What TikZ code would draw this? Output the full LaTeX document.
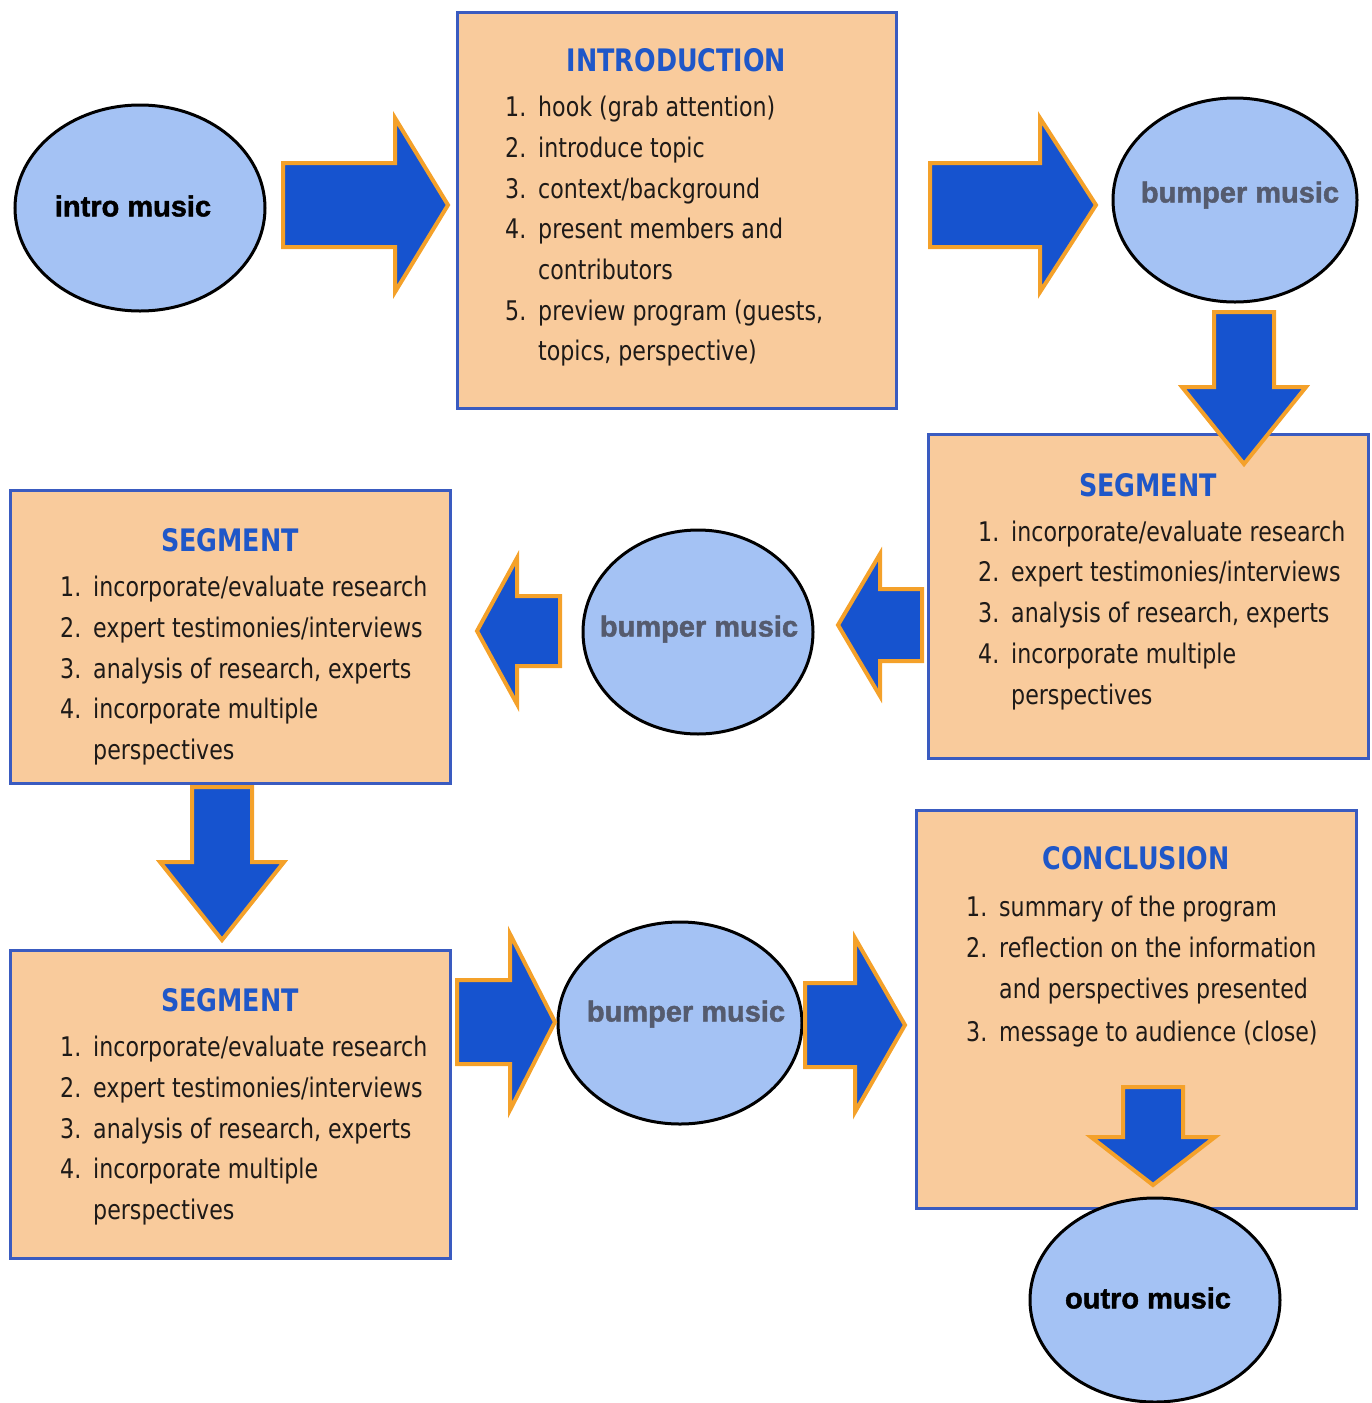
\documentclass[tikz,border=0pt]{standalone}
\usepackage{fontspec}
\usetikzlibrary{shapes.geometric}
\newfontfamily\listfont[FakeStretch=0.82]{DejaVu Sans}
\newfontfamily\ellfont[FakeBold=1.6]{Liberation Sans}
\definecolor{boxfill}{HTML}{F9CB9C}
\definecolor{boxline}{HTML}{3A5BC0}
\definecolor{ellfill}{HTML}{A4C2F4}
\definecolor{arrfill}{HTML}{1653CF}
\definecolor{arrline}{HTML}{F4A12A}
\definecolor{headcol}{HTML}{1F57C8}
\definecolor{bumpcol}{HTML}{555B6E}
\definecolor{txtcol}{HTML}{1E1A18}
\newcommand\itm[1]{\makebox[33pt][l]{#1}}
\newcommand\harrow[6]{\draw[blockarrow] (#1,#4-#5) -- (#2,#4-#5) -- (#2,#4-#6) -- (#3,#4) -- (#2,#4+#6) -- (#2,#4+#5) -- (#1,#4+#5) -- cycle;}
\newcommand\varrow[6]{\draw[blockarrow] (#4-#5,#1) -- (#4-#5,#2) -- (#4-#6,#2) -- (#4,#3) -- (#4+#6,#2) -- (#4+#5,#2) -- (#4+#5,#1) -- cycle;}
\tikzset{
  sectionbox/.style={rectangle, draw=boxline, fill=boxfill, line width=3pt, inner sep=0pt},
  musicell/.style={ellipse, draw=black, fill=ellfill, line width=3pt, inner sep=0pt},
  blockarrow/.style={fill=arrfill, draw=arrline, line width=4pt, line join=miter},
  headtext/.style={font=\listfont\bfseries\fontsize{31}{36}\selectfont, text=headcol, inner sep=0pt, anchor=base},
  listtext/.style={font=\listfont\fontsize{27}{40.7}\selectfont, align=left, inner sep=0pt, anchor=north west, text=txtcol},
  darkmusic/.style={font=\ellfont\bfseries\fontsize{29}{34}\selectfont, text=black, inner sep=0pt},
  greymusic/.style={font=\ellfont\bfseries\fontsize{29}{34}\selectfont, text=bumpcol, inner sep=0pt}
}
\begin{document}
\begin{tikzpicture}[x=1pt,y=-1pt]
\useasboundingbox (0,0) rectangle (1372,1403);
% boxes
\node[sectionbox, minimum width=439pt, minimum height=396pt] (intro) at (676.5,210) {};
\node[sectionbox, minimum width=440pt, minimum height=324pt] (segR) at (1148,596) {};
\node[sectionbox, minimum width=440pt, minimum height=293pt] (segL) at (230,636.5) {};
\node[sectionbox, minimum width=440pt, minimum height=308pt] (segB) at (230,1104) {};
\node[sectionbox, minimum width=440pt, minimum height=398pt] (concl) at (1136,1009) {};
% titles
\node[headtext] (introT) at (676.5,71) {INTRODUCTION};
\node[headtext] (segRT) at (1148,496) {SEGMENT};
\node[headtext] (segLT) at (230,551) {SEGMENT};
\node[headtext] (segBT) at (230,1011) {SEGMENT};
\node[headtext] (conclT) at (1136,869) {CONCLUSION};
% lists
\node[listtext] (introL) at (505,88) {\strut\itm{1.}hook (grab attention)\\
\itm{2.}introduce topic\\
\itm{3.}context/background\\
\itm{4.}present members and\\
\itm{}contributors\\
\itm{5.}preview program (guests,\\
\itm{}topics, perspective)};
\node[listtext] (segRL) at (978,512.5) {\strut\itm{1.}incorporate/evaluate research\\
\itm{2.}expert testimonies/interviews\\
\itm{3.}analysis of research, experts\\
\itm{4.}incorporate multiple\\
\itm{}perspectives};
\node[listtext] (segLL) at (60,568) {\strut\itm{1.}incorporate/evaluate research\\
\itm{2.}expert testimonies/interviews\\
\itm{3.}analysis of research, experts\\
\itm{4.}incorporate multiple\\
\itm{}perspectives};
\node[listtext] (segBL) at (60,1028) {\strut\itm{1.}incorporate/evaluate research\\
\itm{2.}expert testimonies/interviews\\
\itm{3.}analysis of research, experts\\
\itm{4.}incorporate multiple\\
\itm{}perspectives};
\node[listtext] (conclL) at (966,888) {\strut\itm{1.}summary of the program\\
\itm{2.}reflection on the information\\
\itm{}and perspectives presented\\[3pt]
\itm{3.}message to audience (close)};
% ellipses
\node[musicell, minimum width=250pt, minimum height=206pt] (introM) at (140,208) {};
\node[musicell, minimum width=244pt, minimum height=204pt] (bump1) at (1235,200) {};
\node[musicell, minimum width=230pt, minimum height=204pt] (bump2) at (698,632) {};
\node[musicell, minimum width=244pt, minimum height=202pt] (bump3) at (680,1023) {};
\node[musicell, minimum width=250pt, minimum height=204pt] (outroM) at (1155,1300) {};
\node[darkmusic] (introMT) at (133,206) {intro music};
\node[greymusic] (bump1T) at (1240,195) {bumper music};
\node[greymusic] (bump2T) at (699,629) {bumper music};
\node[greymusic] (bump3T) at (686,1014) {bumper music};
\node[darkmusic] (outroMT) at (1148,1298) {outro music};
% block arrows
\harrow{283}{395}{448}{205}{42}{87}
\harrow{930}{1040}{1096}{205}{42}{87}
\varrow{312}{387}{464}{1244}{30}{62}
\harrow{922}{880}{838}{625}{36}{71}
\harrow{560}{517}{477}{631}{35}{73}
\varrow{787}{862}{940}{222}{30}{62}
\harrow{457}{510}{555}{1022}{42}{88}
\harrow{805}{855}{905}{1025}{42}{87}
\varrow{1087}{1137}{1185}{1153}{30}{62}
\end{tikzpicture}
\end{document}
